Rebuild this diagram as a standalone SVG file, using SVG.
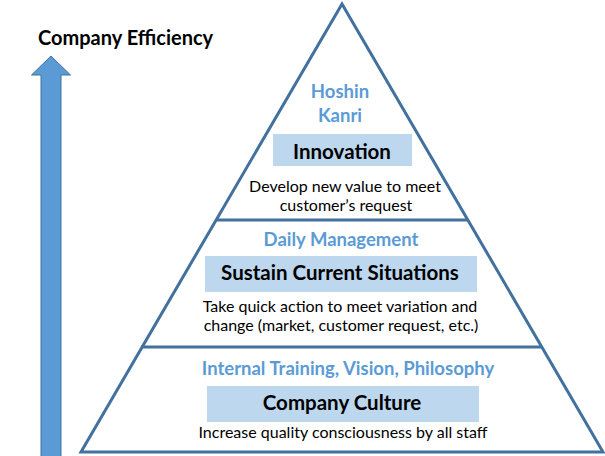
<svg xmlns="http://www.w3.org/2000/svg" width="605" height="456" viewBox="0 0 605 456">
<style>
.t{font-family:Lato,"Open Sans","Liberation Sans",sans-serif;text-anchor:middle}
.blue{fill:#5B9BD5;font-weight:bold;font-size:18.5px}
.head{fill:#000;font-weight:bold;font-size:20.5px}
.body{fill:#000;font-size:16px}
.box{fill:#BDD7EE}
.edge{stroke:#41719C;stroke-width:3;fill:none;stroke-linejoin:miter}
</style>
<rect width="605" height="456" fill="#fff"/>
<g id="title">
<text x="38" y="45" font-family="Lato,'Open Sans','Liberation Sans',sans-serif" font-weight="bold" font-size="20" fill="#000">Company Efficiency</text>
</g>
<g id="connectors">
<polygon points="51,56 70.5,75 61,75 61,458 41,458 41,75 31.5,75" fill="#5B9BD5" stroke="#41719C" stroke-width="1"/>
</g>
<g id="pyramid">
<polygon class="edge" points="342,4 603,452 81,452"/>
<line class="edge" x1="216" y1="220" x2="468" y2="220"/>
<line class="edge" x1="141" y1="347" x2="542" y2="347"/>
</g>
<g id="tier-innovation">
<text class="t blue" x="340" y="98">Hoshin</text>
<text class="t blue" x="340" y="122">Kanri</text>
<rect class="box" x="273" y="134" width="139" height="32"/>
<text class="t head" x="342" y="159">Innovation</text>
<text class="t body" x="345" y="192">Develop new value to meet</text>
<text class="t body" x="346" y="211">customer’s request</text>
</g>
<g id="tier-daily">
<text class="t blue" x="341" y="246">Daily Management</text>
<rect class="box" x="205" y="256" width="272" height="36"/>
<text class="t head" x="340" y="280">Sustain Current Situations</text>
<text class="t body" x="340" y="312">Take quick action to meet variation and</text>
<text class="t body" x="341" y="331">change (market, customer request, etc.)</text>
</g>
<g id="tier-culture">
<text class="t blue" x="348" y="375">Internal Training, Vision, Philosophy</text>
<rect class="box" x="207" y="386" width="272" height="36"/>
<text class="t head" x="342" y="410">Company Culture</text>
<text class="t body" x="343" y="438">Increase quality consciousness by all staff</text>
</g>
</svg>
